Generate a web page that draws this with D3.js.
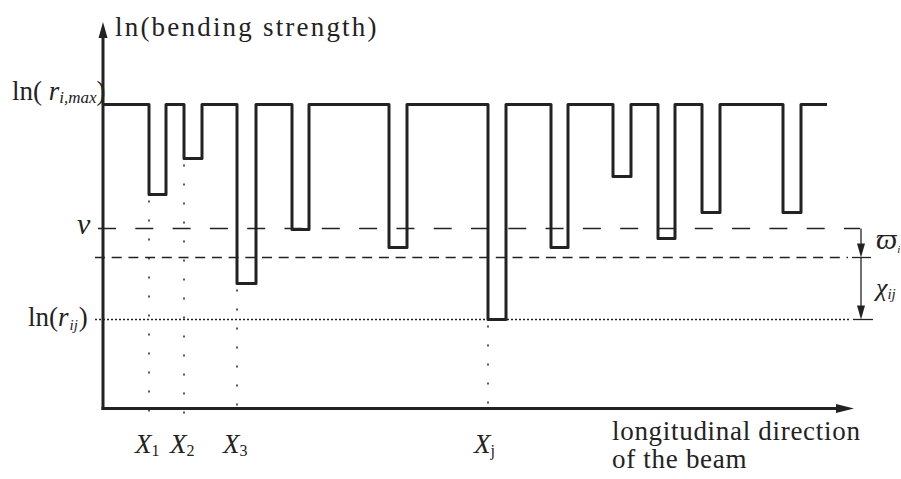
<!DOCTYPE html>
<html>
<head>
<meta charset="utf-8">
<script src="https://cdn.jsdelivr.net/npm/d3@7"></script>
<style>
  body { margin: 0; background: #fff; }
  svg text, svg tspan { font-family: "Liberation Serif" !important; }
</style>
</head>
<body>
<div id="wrapper"></div>
<script>
// Data (schematic units: x along the beam, y = ln strength above the x axis)
const topLevel = 304;
const dipStart = [46, 81, 134, 189, 286, 385, 448, 510, 555, 599, 680];
const dipEnd   = [63, 99, 153, 206, 304, 403, 465, 528, 572, 617, 698];
const dipLevel = [214, 250, 125, 179, 161, 89, 161, 232, 170, 196, 196];
const beamEnd = 724;
const vLevel = 180;
const omegaLevel = 151;
const rijLevel = 89;
const markIndex = [0, 1, 2, 5];           // dips that get an X label
const markLabels = ["1", "2", "3", "j"];

// Dimension
const dimension = { width: 901, height: 479, margin: { top: 104, left: 103, bottom: 71 } };
dimension.axisY = dimension.height - dimension.margin.bottom + 0.5; // 408.5

const xScale = d3.scaleLinear().domain([0, 750]).range([103, 853]);
const yScale = d3.scaleLinear().domain([0, 304]).range([408.5, 104.5]);

const svg = d3.select("#wrapper").append("svg")
  .attr("width", dimension.width).attr("height", dimension.height);

// step line points
const pts = [[0, topLevel]];
dipStart.forEach((s, i) => {
  pts.push([s, topLevel], [s, dipLevel[i]], [dipEnd[i], dipLevel[i]], [dipEnd[i], topLevel]);
});
pts.push([beamEnd, topLevel]);

// reference lines
const x0 = xScale(0);
svg.append("line")
  .attr("x1", x0 - 5).attr("x2", 860).attr("y1", yScale(vLevel)).attr("y2", yScale(vLevel))
  .attr("stroke", "#222").attr("stroke-width", 1.3).attr("stroke-dasharray", "18,19.3");
svg.append("line")
  .attr("x1", x0 - 8).attr("x2", 848).attr("y1", yScale(omegaLevel)).attr("y2", yScale(omegaLevel))
  .attr("stroke", "#222").attr("stroke-width", 1.3).attr("stroke-dasharray", "10,6.7");
svg.append("line")
  .attr("x1", x0 - 8).attr("x2", 849).attr("y1", yScale(rijLevel)).attr("y2", yScale(rijLevel))
  .attr("stroke", "#222").attr("stroke-width", 1.5).attr("stroke-dasharray", "2,2");

// vertical dotted markers
svg.selectAll(".mark").data(markIndex).enter().append("line")
  .attr("x1", i => xScale(dipStart[i])).attr("x2", i => xScale(dipStart[i]))
  .attr("y1", i => yScale(dipLevel[i]) + 6).attr("y2", 417)
  .attr("stroke", "#222").attr("stroke-width", 1.5).attr("stroke-dasharray", "2,17");

svg.append("path")
  .attr("d", d3.line().x(d => xScale(d[0])).y(d => yScale(d[1]))(pts))
  .attr("fill", "none").attr("stroke", "#222").attr("stroke-width", 3)
  .attr("stroke-linejoin", "round");

// axes
svg.append("line").attr("x1", x0).attr("x2", x0).attr("y1", 36).attr("y2", dimension.axisY + 1.5)
  .attr("stroke", "#222").attr("stroke-width", 3);
svg.append("path").attr("d", `M${x0},22 L${x0 - 4.5},38 L${x0 + 4.5},38 Z`).attr("fill", "#222");
svg.append("line").attr("x1", x0 - 1.5).attr("x2", 838).attr("y1", dimension.axisY).attr("y2", dimension.axisY)
  .attr("stroke", "#222").attr("stroke-width", 3);
svg.append("path").attr("d", `M854,${dimension.axisY} L836,${dimension.axisY - 4.5} L836,${dimension.axisY + 4.5} Z`).attr("fill", "#222");

// right annotation arrows
const ax = 861;
function vArrow(yFrom, yTo) {
  svg.append("line").attr("x1", ax).attr("x2", ax).attr("y1", yFrom).attr("y2", yTo - 10)
    .attr("stroke", "#222").attr("stroke-width", 1.3);
  svg.append("path").attr("d", `M${ax},${yTo} L${ax - 4},${yTo - 14} L${ax + 4},${yTo - 14} Z`).attr("fill", "#222");
}
vArrow(yScale(vLevel), yScale(omegaLevel));
vArrow(yScale(omegaLevel), yScale(rijLevel));
svg.append("line").attr("x1", 852).attr("x2", 871).attr("y1", yScale(omegaLevel)).attr("y2", yScale(omegaLevel))
  .attr("stroke", "#222").attr("stroke-width", 1.3);
svg.append("line").attr("x1", 853).attr("x2", 873).attr("y1", yScale(rijLevel)).attr("y2", yScale(rijLevel))
  .attr("stroke", "#222").attr("stroke-width", 1.3);

// texts
const txt = (x, y, size) => svg.append("text").attr("x", x).attr("y", y)
  .attr("font-family", "Liberation Serif")
  .style("font-family", '"Liberation Serif"')
  .attr("font-size", size).attr("fill", "#222");

txt(115, 36, 27).attr("letter-spacing", 2.2).text("ln(bending strength)");

let t = txt(12, 100, 27);
t.append("tspan").text("ln( ");
t.append("tspan").attr("font-style", "italic").text("r");
t.append("tspan").attr("font-style", "italic").attr("font-size", 17).attr("dy", 3).text("i,max");
t.append("tspan").attr("dy", -3).text(")");

txt(77, 234, 30).attr("font-style", "italic").text("v");

t = txt(28, 326, 27);
t.append("tspan").text("ln(");
t.append("tspan").attr("font-style", "italic").text("r");
t.append("tspan").attr("font-style", "italic").attr("font-size", 15).attr("dy", 4).attr("dx", 1).text("ij");
t.append("tspan").attr("dy", -4).attr("dx", 1).text(")");

t = txt(876, 249, 30);
t.append("tspan").attr("font-style", "italic").text("\u03D6");
t.append("tspan").attr("font-style", "italic").attr("font-size", 11).attr("dy", 4).text("i");

t = txt(876, 296, 26);
t.append("tspan").attr("font-style", "italic").text("\u03C7");
t.append("tspan").attr("font-style", "italic").attr("font-size", 15).attr("dy", 3).text("ij");

svg.selectAll(".xlab").data(markIndex).enter().append("text")
  .attr("x", i => xScale(dipStart[i]) - 14).attr("y", 453)
  .attr("font-family", "Liberation Serif")
  .style("font-family", '"Liberation Serif"').attr("font-size", 27).attr("fill", "#222")
  .each(function (i, k) {
    const s = d3.select(this);
    s.append("tspan").attr("font-style", "italic").text("X");
    s.append("tspan").attr("font-size", 16).attr("dy", 3).text(markLabels[k]);
  });

txt(612, 440, 27).attr("letter-spacing", 0.7).text("longitudinal direction");
txt(612, 468, 27).attr("letter-spacing", 0.7).text("of the beam");
</script>
</body>
</html>
